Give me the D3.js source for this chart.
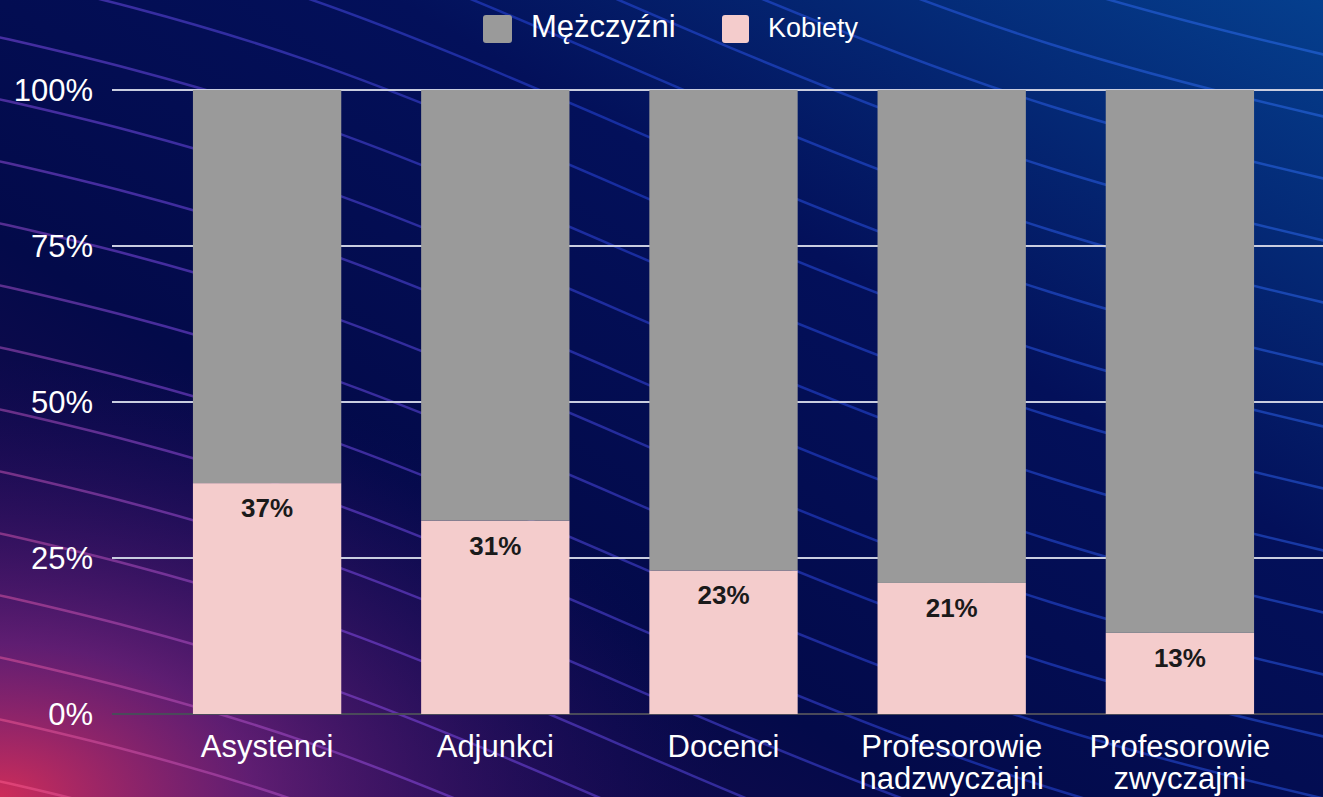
<!DOCTYPE html>
<html>
<head>
<meta charset="utf-8">
<script src="https://cdn.jsdelivr.net/npm/d3@7"></script>
<style>
  html, body { margin: 0; padding: 0; background: #020b4a; overflow: hidden; }
  svg { display: block; font-family: "Liberation Sans", Arial, sans-serif; }
</style>
</head>
<body>
<div id="chart"></div>
<script>
// Data
const categories = ["Asystenci", "Adjunkci", "Docenci", "Profesorowie\nnadzwyczajni", "Profesorowie\nzwyczajni"]
const kobiety = [37, 31, 23, 21, 13]
const mezczyzni = [63, 69, 77, 79, 87]
const seriesNames = ["Mężczyźni", "Kobiety"]
const yTicks = [0, 25, 50, 75, 100]

const colors = { "Mężczyźni": "#9a9a9a", "Kobiety": "#f4cccc" }

function draw() {
  // Dimensions
  const dimensions = {
    width: 1323,
    height: 797,
    top: 90,
    bottom: 714,
    gridLeft: 112,
  }

  const svg = d3.select('#chart')
    .append('svg')
    .attr('width', dimensions.width)
    .attr('height', dimensions.height)

  // Background
  const defs = svg.append('defs')
  const bg = defs.append('linearGradient').attr('id', 'bg')
    .attr('x1', 0).attr('y1', 1).attr('x2', 1).attr('y2', 0)
  bg.append('stop').attr('offset', '0%').attr('stop-color', '#2a0a4e')
  bg.append('stop').attr('offset', '35%').attr('stop-color', '#030a4a')
  bg.append('stop').attr('offset', '65%').attr('stop-color', '#03105a')
  bg.append('stop').attr('offset', '100%').attr('stop-color', '#053f8e')

  const glow = defs.append('radialGradient').attr('id', 'glow')
    .attr('cx', 0).attr('cy', 1).attr('r', 0.55)
  glow.append('stop').attr('offset', '0%').attr('stop-color', '#e0305a').attr('stop-opacity', 0.9)
  glow.append('stop').attr('offset', '35%').attr('stop-color', '#8a2a8a').attr('stop-opacity', 0.6)
  glow.append('stop').attr('offset', '100%').attr('stop-color', '#1a0a6a').attr('stop-opacity', 0)

  const lineGrad = defs.append('linearGradient').attr('id', 'lineGrad')
    .attr('gradientUnits', 'userSpaceOnUse')
    .attr('x1', 0).attr('y1', 797).attr('x2', 1323).attr('y2', 0)
  lineGrad.append('stop').attr('offset', '0%').attr('stop-color', '#ff5a8a')
  lineGrad.append('stop').attr('offset', '25%').attr('stop-color', '#8a4ef0')
  lineGrad.append('stop').attr('offset', '55%').attr('stop-color', '#2a4ae8')
  lineGrad.append('stop').attr('offset', '100%').attr('stop-color', '#2f72f4')

  svg.append('rect').attr('width', dimensions.width).attr('height', dimensions.height).attr('fill', 'url(#bg)')
  svg.append('rect').attr('width', dimensions.width).attr('height', dimensions.height).attr('fill', 'url(#glow)')

  // decorative wave lines
  const waveGen = d3.line().curve(d3.curveBasis)
  const waves = d3.range(-900, 900, 62)
  svg.append('g')
    .attr('fill', 'none')
    .attr('stroke', 'url(#lineGrad)')
    .attr('stroke-width', 2.5)
    .attr('stroke-opacity', 0.5)
    .selectAll('path')
    .data(waves)
    .join('path')
    .attr('d', k => waveGen([
      [-50, k + 120],
      [300, k + 200],
      [700, k + 380],
      [1050, k + 520],
      [1400, k + 600],
    ]))

  // Scales
  const xScale = d3.scaleBand()
    .domain(categories)
    .range([153, 1294])
    .paddingInner(0.35)
    .paddingOuter(0.175)

  const yScale = d3.scaleLinear()
    .domain([0, 100])
    .range([dimensions.bottom, dimensions.top])

  // Grid
  svg.append('g')
    .selectAll('line')
    .data(yTicks.filter(t => t > 0))
    .join('line')
    .attr('x1', dimensions.gridLeft)
    .attr('x2', dimensions.width)
    .attr('y1', d => yScale(d))
    .attr('y2', d => yScale(d))
    .attr('stroke', '#c9cde0')
    .attr('stroke-width', 2)

  svg.append('line')
    .attr('x1', dimensions.gridLeft)
    .attr('x2', dimensions.width)
    .attr('y1', yScale(0))
    .attr('y2', yScale(0))
    .attr('stroke', '#4a4a5a')
    .attr('stroke-width', 2)

  // Y axis labels
  svg.append('g')
    .selectAll('text')
    .data(yTicks)
    .join('text')
    .attr('x', 93)
    .attr('y', d => yScale(d))
    .attr('dy', '0.36em')
    .attr('text-anchor', 'end')
    .attr('fill', '#ffffff')
    .attr('font-size', 31)
    .text(d => d + '%')

  // Stack
  const table = categories.map((c, i) => ({ name: c, "Kobiety": kobiety[i], "Mężczyźni": mezczyzni[i] }))
  const stacked = d3.stack().keys(["Kobiety", "Mężczyźni"])(table)

  svg.append('g')
    .selectAll('g')
    .data(stacked)
    .join('g')
    .attr('fill', d => colors[d.key])
    .selectAll('rect')
    .data(d => d)
    .join('rect')
    .attr('x', d => xScale(d.data.name))
    .attr('y', d => yScale(d[1]))
    .attr('width', xScale.bandwidth())
    .attr('height', d => yScale(d[0]) - yScale(d[1]))

  // Value labels (Kobiety)
  svg.append('g')
    .selectAll('text')
    .data(table)
    .join('text')
    .attr('x', d => xScale(d.name) + xScale.bandwidth() / 2)
    .attr('y', d => yScale(d["Kobiety"]) + 34)
    .attr('text-anchor', 'middle')
    .attr('font-size', 26)
    .attr('font-weight', 'bold')
    .attr('fill', '#1a1a1a')
    .text(d => d["Kobiety"] + '%')

  // X labels, one text per line
  const lines = categories.flatMap(c => c.split('\n').map((t, i) => ({ cat: c, text: t, line: i })))
  svg.append('g')
    .selectAll('text')
    .data(lines)
    .join('text')
    .attr('x', d => xScale(d.cat) + xScale.bandwidth() / 2)
    .attr('y', d => 757 + d.line * 32)
    .attr('text-anchor', 'middle')
    .attr('fill', '#ffffff')
    .attr('font-size', 31)
    .text(d => d.text)

  // Legend
  const legendItems = [
    { name: seriesNames[0], x: 483, w: 29, textX: 531, size: 31 },
    { name: seriesNames[1], x: 722, w: 27, textX: 768, size: 27 },
  ]
  const legend = svg.append('g')
    .selectAll('g')
    .data(legendItems)
    .join('g')

  legend.append('rect')
    .attr('x', d => d.x)
    .attr('y', 15)
    .attr('width', d => d.w)
    .attr('height', 28)
    .attr('rx', 3)
    .attr('fill', d => colors[d.name])

  legend.append('text')
    .attr('x', d => d.textX)
    .attr('y', 37)
    .attr('fill', '#ffffff')
    .attr('font-size', d => d.size)
    .text(d => d.name)
}

draw()
</script>
</body>
</html>
